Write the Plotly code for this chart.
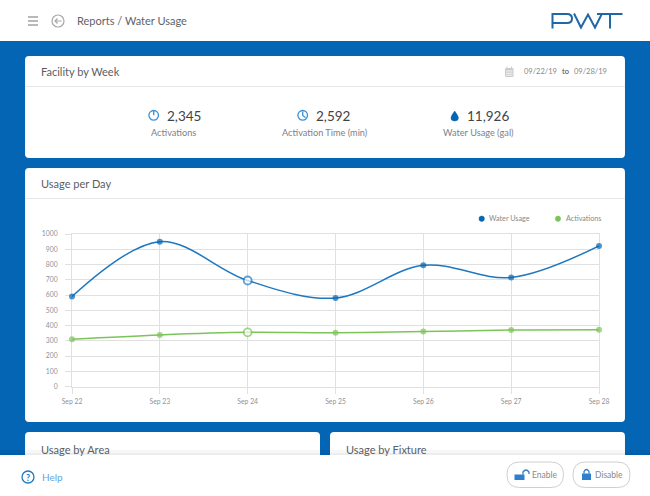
import plotly.graph_objects as go

days = ["Sep 22", "Sep 23", "Sep 24", "Sep 25", "Sep 26", "Sep 27", "Sep 28"]
water_usage = [590, 950, 695, 580, 795, 715, 922]
activations = [310, 338, 355, 352, 360, 370, 372]
y_ticks = [0, 100, 200, 300, 400, 500, 600, 700, 800, 900, 1000]
hover_day = 2

W = 650
H = 496
BLUE = "#0365b4"
LINE_BLUE = "#1e78c0"
GREEN = "#7cc45a"
FONT = "Lato"
shapes = []
notes = []


def px(x):
    return x / W


def py(y):
    return 1 - y / H


def rect(x0, y0, x1, y1, color):
    shapes.append(dict(type="rect", xref="paper", yref="paper", x0=px(x0), x1=px(x1), y0=py(y0), y1=py(y1),
                       fillcolor=color, line_width=0, layer="below"))


def hline(x0, x1, y, color, width=1):
    shapes.append(dict(type="line", xref="paper", yref="paper", x0=px(x0), x1=px(x1), y0=py(y), y1=py(y),
                       line=dict(color=color, width=width), layer="below"))


def circle(cx, cy, r, color, width=1.2, fill="rgba(0,0,0,0)"):
    shapes.append(dict(type="circle", xref="paper", yref="paper", x0=px(cx - r), x1=px(cx + r),
                       y0=py(cy + r), y1=py(cy - r), line=dict(color=color, width=width), fillcolor=fill,
                       layer="below"))


def path(points, color, width=1.2, fill="rgba(0,0,0,0)"):
    # points are in screen pixels, letters are kept as they are
    parts = []
    for p in points:
        if isinstance(p, str):
            parts.append(p)
        else:
            parts.append("%.4f,%.4f" % (px(p[0]), py(p[1])))
    shapes.append(dict(type="path", xref="paper", yref="paper", path=" ".join(parts),
                       line=dict(color=color, width=width), fillcolor=fill, layer="below"))


def round_rect(x0, y0, x1, y1, r, fill, line="rgba(0,0,0,0)", width=0):
    path(["M", (x0 + r, y0), "L", (x1 - r, y0), "Q", (x1, y0), (x1, y0 + r), "L", (x1, y1 - r),
          "Q", (x1, y1), (x1 - r, y1), "L", (x0 + r, y1), "Q", (x0, y1), (x0, y1 - r), "L", (x0, y0 + r),
          "Q", (x0, y0), (x0 + r, y0), "Z"], line, width, fill)


def text(x, y, s, size, color, anchor="left", weight=None):
    notes.append(dict(xref="paper", yref="paper", x=px(x), y=py(y), text=s, showarrow=False,
                      xanchor=anchor, yanchor="middle", borderpad=0, borderwidth=0,
                      font=dict(family=FONT, size=size, color=color, weight=weight)))


def point_marker(color, edge):
    # the hovered day gets a bigger hollow dot
    n = range(len(days))
    return dict(color=["white" if i == hover_day else color for i in n],
                size=[8 if i == hover_day else 6 for i in n],
                line=dict(color=edge, width=[1.8 if i == hover_day else 0 for i in n]))


# page and cards
rect(0, 0, W, H, BLUE)
rect(0, 0, W, 41, "white")
round_rect(25, 56, 625, 158, 4, "white")
round_rect(25, 168, 625, 422, 4, "white")
round_rect(25, 432, 320, 470, 4, "white")
round_rect(330, 432, 625, 470, 4, "white")
hline(25, 625, 86.5, "#e8e8e8")
hline(25, 625, 198.5, "#e8e8e8")

# footer with its soft shadow
rect(0, 450, W, 455, "rgba(0,0,0,0.03)")
rect(0, 453, W, 455, "rgba(0,0,0,0.04)")
rect(0, 455, W, H, "white")

# top bar
for y in [17, 21, 25]:
    hline(28, 38, y, "#a8a8a8", 1.6)
circle(58, 21, 6, "#a8a8a8")
path(["M", (61.5, 21), "L", (55, 21), "M", (57.5, 18.5), "L", (55, 21), "L", (57.5, 23.5)], "#a8a8a8")
text(76.5, 20.5, "Reports / Water Usage", 11, "#5f6368")

# logo
logo = "#2067a8"
path(["M", (552.5, 28.5), "L", (552.5, 14), "L", (567, 14), "Q", (572, 14), (572, 18.5), "Q", (572, 23), (567, 23),
      "L", (552.5, 23)], logo, 2)
path(["M", (574, 13.5), "L", (581, 27.5), "L", (588, 14.5), "L", (595, 27.5), "L", (602, 13.5)], logo, 2)
path(["M", (597, 14), "L", (622.5, 14), "M", (610, 14), "L", (610, 28.5)], logo, 2)

# card titles
text(40.5, 71.5, "Facility by Week", 11, "#5a5e63")
text(40.5, 183.5, "Usage per Day", 11, "#5a5e63")
text(40.5, 449, "Usage by Area", 11, "#5a5e63")
text(345.5, 449, "Usage by Fixture", 11, "#5a5e63")

# date range
round_rect(505, 68, 513.5, 77, 1, "#cccccc")
hline(506, 512.5, 71, "white", 0.8)
hline(506, 512.5, 73.2, "white", 0.8)
hline(506, 512.5, 75.2, "white", 0.8)
path(["M", (507, 66.5), "L", (507, 68.5), "M", (511.5, 66.5), "L", (511.5, 68.5)], "#cccccc", 1)
text(524, 72, "09/22/19", 7.5, "#85898e")
text(561.5, 72, "to", 7.5, "#3f4347")
text(574, 72, "09/28/19", 7.5, "#85898e")

# stats
circle(153.7, 115.3, 4.8, "#3a8fd9", 1.3)
path(["M", (153.7, 111), "L", (153.7, 115.3)], "#3a8fd9", 1.3)
circle(302.7, 115.3, 4.8, "#3a8fd9", 1.3)
path(["M", (302.7, 111.5), "L", (302.7, 115.5), "L", (305.5, 117.5)], "#3a8fd9", 1.3)
path(["M", (454.7, 111), "Q", (451, 116), (451, 118), "Q", (451, 121), (454.7, 121), "Q", (458.4, 121), (458.4, 118),
      "Q", (458.4, 116), (454.7, 111), "Z"], BLUE, 0.5, BLUE)
text(166.5, 115.5, "2,345", 13.5, "#3f4347")
text(173.5, 132, "Activations", 9.2, "#7d8186", "center")
text(316, 115.5, "2,592", 13.5, "#3f4347")
text(324.5, 132, "Activation Time (min)", 9.2, "#7d8186", "center")
text(466.5, 115.5, "11,926", 13.5, "#3f4347")
text(478, 132, "Water Usage (gal)", 9.2, "#7d8186", "center")

# legend, drawn by hand because the plotly one keeps a wide gap after the dot
circle(481.7, 218.7, 2.7, BLUE, 0.5, BLUE)
text(489, 218.7, "Water Usage", 7.2, "#85898e")
circle(558, 218.7, 2.7, GREEN, 0.5, GREEN)
text(566, 218.7, "Activations", 7.2, "#85898e")

# footer contents
circle(28, 477, 6, "#1e78c0", 1.3)
text(28, 477, "?", 9, "#1e78c0", "center", 700)
text(41.5, 477, "Help", 10, "#6aa5dc")
round_rect(507, 462, 563.5, 487.5, 12.7, "white", "#cfcfcf", 1)
round_rect(573, 462, 630, 487.5, 12.7, "white", "#cfcfcf", 1)
lock = "#2f7fcd"
rect(514.5, 474.5, 524.5, 480, lock)
path(["M", (523, 474.5), "L", (523, 472), "Q", (526, 468), (529, 472), "L", (529, 474)], lock, 1.3)
rect(582, 473.5, 591, 480, lock)
path(["M", (584, 473.5), "L", (584, 471.5), "Q", (586.5, 467.5), (589, 471.5), "L", (589, 473.5)], lock, 1.3)
text(531.5, 475, "Enable", 8.5, "#85898e")
text(595, 475, "Disable", 8.5, "#85898e")

fig = go.Figure()
fig.add_trace(go.Scatter(x=days, y=water_usage, mode="lines+markers", name="Water Usage", cliponaxis=False,
                         line=dict(color=LINE_BLUE, width=1.5, shape="spline", smoothing=1),
                         marker=point_marker(BLUE, LINE_BLUE)))
fig.add_trace(go.Scatter(x=days, y=activations, mode="lines+markers", name="Activations", cliponaxis=False,
                         line=dict(color=GREEN, width=1.5, shape="spline", smoothing=1),
                         marker=point_marker(GREEN, GREEN)))

fig.update_layout(
    width=W, height=H, margin=dict(l=0, r=0, t=0, b=0), autosize=False,
    paper_bgcolor=BLUE, plot_bgcolor="rgba(0,0,0,0)", showlegend=False,
    font=dict(family=FONT, size=6.8, color="#8f9296"),
    shapes=shapes, annotations=notes, hovermode=False,
    xaxis=dict(domain=[px(72), px(599)], type="category", range=[0, 6], showgrid=True, gridcolor="#e0e0e0",
               ticks="outside", ticklen=6, tickcolor="#e0e0e0", zeroline=False, automargin=False, layer="below traces",
               showline=True, mirror=True, linecolor="#e0e0e0", linewidth=1, ticklabelstandoff=2),
    yaxis=dict(domain=[py(386.5), py(234)], range=[0, 1000], tickvals=y_ticks, showgrid=True, gridcolor="#e0e0e0",
               ticks="outside", ticklen=6, tickcolor="#e0e0e0", zeroline=False, automargin=False, layer="below traces",
               showline=True, mirror=True, linecolor="#e0e0e0", linewidth=1, ticklabelstandoff=6),
)
fig.write_html("out.html", post_script="document.body.style.margin='0';", config=dict(displayModeBar=False))
